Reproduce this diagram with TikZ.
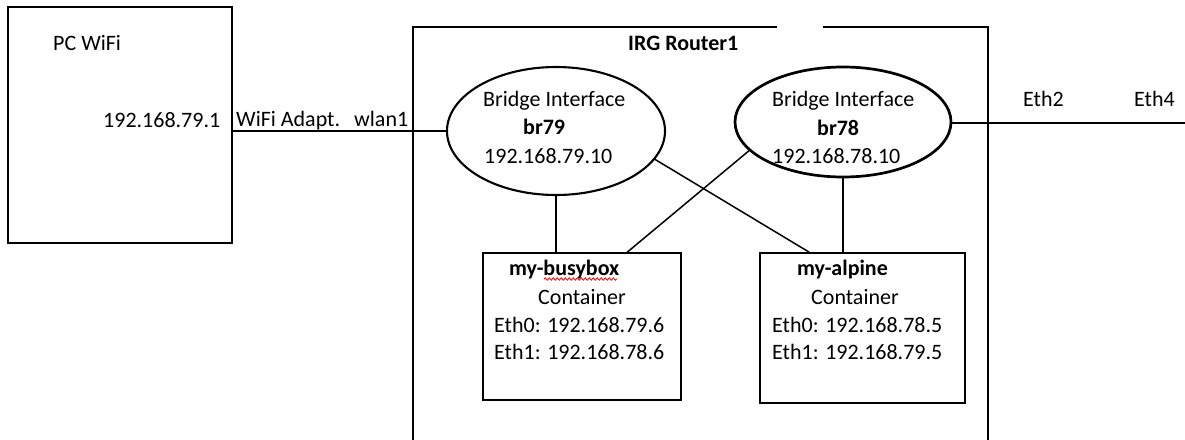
\documentclass[tikz,border=0pt]{standalone}
\usepackage{fontspec}
\setmainfont{Carlito}
\usetikzlibrary{shapes.geometric,calc,decorations.pathmorphing}
\begin{document}
\begin{tikzpicture}[x=1pt,y=-1pt,
  lbl/.style={anchor=base west,inner sep=0pt,font=\fontsize{22}{26}\selectfont},
  blbl/.style={lbl,font=\fontsize{22}{26}\selectfont\bfseries},
  boxn/.style={draw,line width=1.6pt,inner sep=0pt},
  ell/.style={draw,ellipse,line width=2.1pt,inner sep=0pt},
  wire/.style={line width=1.5pt}]
\useasboundingbox (0,0) rectangle (1185,439);
% PC box
\node[boxn,minimum width=224pt,minimum height=236pt] (pc) at (120,125) {};
% Router box (open at the bottom, small gap in top edge)
\coordinate (rbl) at (413,440);
\coordinate (rtl) at (413,27);
\coordinate (rg1) at (777,27);
\coordinate (rg2) at (823,27);
\coordinate (rtr) at (988,27);
\coordinate (rbr) at (988,440);
\draw[line width=1.6pt] (rbl) -- (rtl) -- (rg1);
\draw[line width=1.6pt] (rg2) -- (rtr) -- (rbr);
% bridges
\node[ell,minimum width=218pt,minimum height=128pt] (br79) at (556,131) {};
\node[ell,line width=2.7pt,minimum width=216pt,minimum height=110pt] (br78) at (843,122) {};
% containers
\node[boxn,minimum width=198pt,minimum height=147pt] (busy) at (582,326.5) {};
\node[boxn,minimum width=205pt,minimum height=150pt] (alp) at (862.5,328) {};
\coordinate (eth) at (1185,123);
% connectors
\draw[wire] (pc.east |- br79.west) -- (br79.west);
\draw[wire] (br78.east |- eth) -- (eth);
\draw[wire] (br79.south) -- (br79.south |- busy.north);
\draw[wire] (br78.south) -- (br78.south |- alp.north);
\draw[wire] (br79.-16) -- ($(alp.north west)+(50,0)$);
\draw[wire] (br78.197) -- ($(busy.north west)+(145,0)$);
% texts
\node[lbl] (t1) at (53,50) {PC WiFi};
\node[lbl] (t2) at (103,127) {192.168.79.1};
\node[lbl] (t3) at (236,126) {WiFi Adapt.};
\node[lbl] (t4) at (354,126) {wlan1};
\node[blbl] (t5) at (628,50) {IRG Router1};
\node[lbl] (t6) at (483,106) {Bridge Interface};
\node[blbl] (t7) at (523,134) {br79};
\node[lbl] (t8) at (484,163) {192.168.79.10};
\node[lbl] (t9) at (772,106) {Bridge Interface};
\node[blbl] (t10) at (817,135) {br78};
\node[lbl] (t11) at (772,163) {192.168.78.10};
\node[lbl] (t12) at (1023,106) {Eth2};
\node[lbl] (t13) at (1134,106) {Eth4};
\node[blbl] (t14) at (509,275) {my-busybox};
\node[lbl] (t15) at (538,304) {Container};
\node[lbl] (t16) at (494,332) {Eth0: 192.168.79.6};
\node[lbl] (t17) at (494,359) {Eth1: 192.168.78.6};
\node[blbl] (t18) at (797,275) {my-alpine};
\node[lbl] (t19) at (811,304) {Container};
\node[lbl] (t20) at (772,332) {Eth0: 192.168.78.5};
\node[lbl] (t21) at (772,359) {Eth1: 192.168.79.5};
% spell-check squiggle
\coordinate (sq1) at (544,279);
\coordinate (sq2) at (617,279);
\draw[red,line width=0.8pt,decorate,decoration={snake,segment length=4pt,amplitude=1.2pt}] (sq1) -- (sq2);
\end{tikzpicture}
\end{document}
